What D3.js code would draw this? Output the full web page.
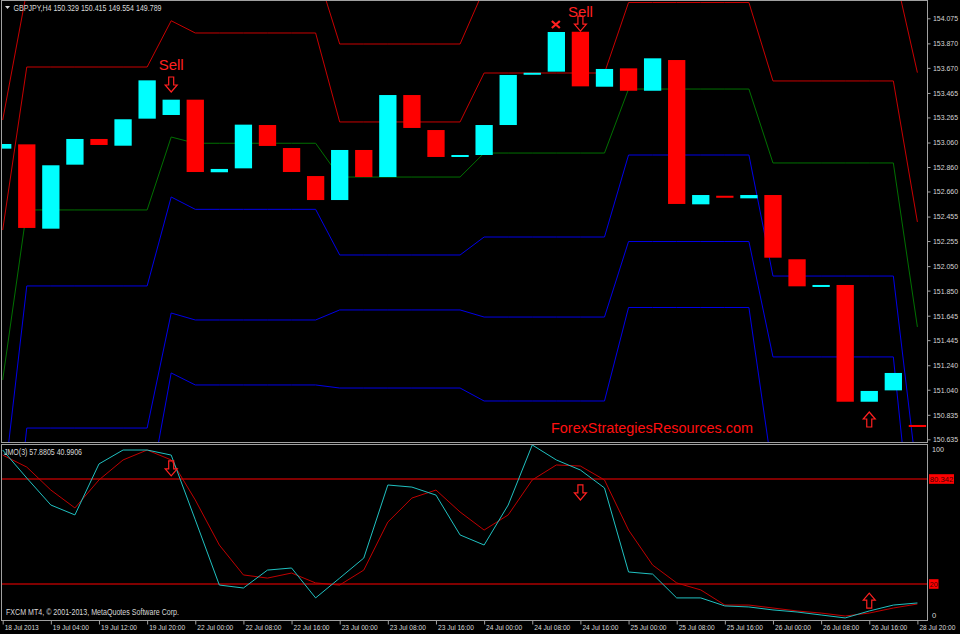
<!DOCTYPE html>
<html><head><meta charset="utf-8">
<script src="https://cdn.jsdelivr.net/npm/d3@7"></script>
<style>
html,body{margin:0;padding:0;background:#000;}
svg{display:block;}
text{font-family:"Liberation Sans","DejaVu Sans",sans-serif;}
</style></head><body>
<svg id="c" width="960" height="634"></svg>
<script>
// ---------- DATA ----------
const timeLabels = ["18 Jul 2013","19 Jul 04:00","19 Jul 12:00","19 Jul 20:00","22 Jul 00:00","22 Jul 08:00","22 Jul 16:00","23 Jul 00:00","23 Jul 08:00","23 Jul 16:00","24 Jul 00:00","24 Jul 08:00","24 Jul 16:00","25 Jul 00:00","25 Jul 08:00","25 Jul 16:00","26 Jul 00:00","26 Jul 08:00","26 Jul 16:00","28 Jul 20:00"];
const priceTicks = [154.075,153.870,153.670,153.465,153.265,153.060,152.860,152.660,152.455,152.255,152.050,151.850,151.645,151.445,151.240,151.040,150.835,150.635];
const opens  = [153.010,153.045,152.356,152.879,153.089,153.034,153.255,153.285,153.410,152.817,152.849,153.203,153.015,152.786,152.590,152.999,152.778,153.448,153.162,152.942,152.958,153.203,153.614,153.639,153.965,153.516,153.666,153.483,153.734,152.555,152.625,152.604,152.631,152.106,151.882,151.896,150.942,151.035,150.752];
const closes = [153.048,152.362,152.874,153.089,153.040,153.250,153.568,153.410,152.819,152.844,153.206,153.032,152.819,152.590,152.999,152.778,153.448,153.179,152.942,152.958,153.203,153.612,153.630,153.963,153.519,153.661,153.483,153.748,152.558,152.631,152.612,152.631,152.119,151.885,151.896,150.942,151.030,151.177,150.747];
const pivotR2 = [153.244,154.298,154.298,154.298,154.298,154.298,154.298,154.543,154.494,154.494,154.494,154.494,154.494,154.494,153.865,153.865,153.865,153.865,153.865,153.865,154.314,154.314,154.314,154.314,154.314,154.314,154.743,154.743,154.743,154.743,154.743,154.743,154.502,154.502,154.502,154.502,154.502,154.502,153.631];
const pivotR1 = [152.345,153.677,153.677,153.677,153.677,153.677,153.677,154.055,153.955,153.955,153.955,153.955,153.955,153.955,153.228,153.228,153.228,153.228,153.228,153.228,153.628,153.628,153.628,153.628,153.628,153.628,154.204,154.204,154.204,154.204,154.204,154.204,153.563,153.563,153.563,153.563,153.563,153.563,152.411];
const pivotP  = [151.120,152.509,152.509,152.509,152.509,152.509,152.509,153.105,153.054,153.054,153.054,153.054,153.054,153.054,152.778,152.778,152.778,152.778,152.778,152.778,152.974,152.974,152.974,152.974,152.974,152.974,153.497,153.497,153.497,153.497,153.497,153.497,152.893,152.893,152.893,152.893,152.893,152.893,151.553];
const pivotS1 = [150.180,151.888,151.888,151.888,151.888,151.888,151.888,152.615,152.514,152.514,152.514,152.514,152.514,152.514,152.141,152.141,152.141,152.141,152.141,152.141,152.288,152.288,152.288,152.288,152.288,152.288,152.958,152.958,152.958,152.958,152.958,152.958,151.969,151.969,151.969,151.969,151.969,151.969,150.311];
const pivotS2 = [148.954,150.727,150.727,150.727,150.727,150.727,150.727,151.667,151.610,151.610,151.610,151.610,151.610,151.610,151.692,151.692,151.692,151.692,151.692,151.692,151.634,151.634,151.634,151.634,151.634,151.634,152.251,152.251,152.251,152.251,152.251,152.251,151.308,151.308,151.308,151.308,151.308,151.308,149.404];
const pivotS3 = [148.015,150.098,150.098,150.098,150.098,150.098,150.098,151.177,151.079,151.079,151.079,151.079,151.079,151.079,151.054,151.054,151.054,151.054,151.054,151.054,150.948,150.948,150.948,150.948,150.948,150.948,151.712,151.712,151.712,151.712,151.712,151.712,150.343,150.343,150.343,150.343,150.343,150.343,148.211];
const jmoFast = [97.0,80.9,65.4,59.7,89.0,97.0,97.0,94.1,56.9,19.4,17.7,28.0,29.2,12.0,23.4,34.9,76.9,75.7,71.1,48.2,42.4,65.4,99.9,91.3,85.5,75.2,26.9,25.7,12.0,12.0,7.4,6.8,5.1,3.9,2.2,0.5,4.5,7.9,9.1];
const jmoSlow = [94.1,87.2,74.0,63.7,79.8,91.3,97.0,91.3,68.3,42.4,25.2,23.4,26.3,20.6,19.4,28.0,55.6,69.4,74.0,61.4,51.0,59.7,79.8,88.4,87.8,79.8,51.0,30.9,20.6,16.6,7.9,7.9,6.2,4.5,3.3,1.6,3.3,6.2,8.5];
const levels = [80.342, 20];
const sellBars = [7, 24];
const sellTips = [153.473, 153.971];
const buyBars = [36];
const buyTips = [150.858];
const crossBars = [23];
const crossPrices = [154.024];
const subDownBars = [7, 24];
const subDownTips = [82.1, 68.3];
const subUpBars = [36];
const subUpTips = [14.8];

// ---------- LAYOUT ----------
const svg = d3.select("#c");
const L = 1.5, R = 927.5, mT = 0.5, mB = 442.5, sT = 444.5, sB = 620.5;
const x = d3.scaleLinear().domain([0, 38]).range([2.7, 917.4]);
const y = d3.scaleLinear().domain([150.635, 154.075]).range([439.3, 18.3]);
const yS = d3.scaleLinear().domain([0, 100]).range([618.8, 444.8]);
const frame = "#a0a0a0", fg = "#d8d8d8";
const fs = 8.5;

svg.append("rect").attr("width",960).attr("height",634).attr("fill","#000");
const defs = svg.append("defs");
defs.append("clipPath").attr("id","cm").append("rect").attr("x",L).attr("y",mT).attr("width",R-L).attr("height",mB-mT);
defs.append("clipPath").attr("id","cs").append("rect").attr("x",L).attr("y",sT).attr("width",R-L).attr("height",sB-sT);

const gm = svg.append("g").attr("clip-path","url(#cm)");
const gs = svg.append("g").attr("clip-path","url(#cs)");

// pivot lines
const line = d3.line().x((d,i)=>x(i)).y(d=>y(d));
[[pivotR2,"#c80000"],[pivotR1,"#c80000"],[pivotP,"#007000"],[pivotS1,"#0000e8"],[pivotS2,"#0000e8"],[pivotS3,"#0000e8"]].forEach(([arr,col])=>{
  gm.append("path").attr("d",line(arr)).attr("fill","none").attr("stroke",col).attr("stroke-width",1);
});

// candles
const bw = 17.3;
gm.selectAll("rect.c").data(opens.map((o,i)=>({o,c:closes[i],i}))).enter().append("rect")
  .attr("x",d=>x(d.i)-bw/2).attr("width",bw)
  .attr("y",d=>y(Math.max(d.o,d.c)))
  .attr("height",d=>Math.max(2, y(Math.min(d.o,d.c))-y(Math.max(d.o,d.c))))
  .attr("fill",d=>d.c>=d.o?"#00ffff":"#ff0000");

// arrows
function downArrow(g,cx,tip,col){
  const p=`M${cx-2.5},${tip-15}L${cx+2.5},${tip-15}L${cx+2.5},${tip-7}L${cx+6},${tip-7}L${cx},${tip}L${cx-6},${tip-7}L${cx-2.5},${tip-7}Z`;
  g.append("path").attr("d",p).attr("fill","none").attr("stroke",col).attr("stroke-width",1.2);
}
function upArrow(g,cx,tip,col){
  const p=`M${cx-2.5},${tip+15}L${cx+2.5},${tip+15}L${cx+2.5},${tip+7}L${cx+6},${tip+7}L${cx},${tip}L${cx-6},${tip+7}L${cx-2.5},${tip+7}Z`;
  g.append("path").attr("d",p).attr("fill","none").attr("stroke",col).attr("stroke-width",1.2);
}
sellBars.forEach((b,k)=>{
  downArrow(gm,x(b),y(sellTips[k]),"#ff2020");
  gm.append("text").attr("x",x(b)).attr("y",Math.max(17, y(sellTips[k])-22)).attr("text-anchor","middle")
    .attr("fill","#ff2020").attr("font-size",15).attr("font-family","'DejaVu Sans',sans-serif").text("Sell");
});
buyBars.forEach((b,k)=>upArrow(gm,x(b),y(buyTips[k]),"#ff2020"));
crossBars.forEach((b,k)=>{
  const cx=x(b)-0.5, cy=y(crossPrices[k]);
  gm.append("path").attr("d",`M${cx-4},${cy-3.5}L${cx+4},${cy+3.5}M${cx+4},${cy-3.5}L${cx-4},${cy+3.5}`)
    .attr("stroke","#ff2020").attr("stroke-width",2.2);
});

// watermark
gm.append("text").attr("x",551).attr("y",433).attr("fill","#ff1010").attr("font-size",15)
  .attr("font-family","'DejaVu Sans',sans-serif").attr("textLength",202).attr("lengthAdjust","spacingAndGlyphs")
  .text("ForexStrategiesResources.com");

// ---------- sub panel ----------
levels.forEach(v=>{
  gs.append("line").attr("x1",L).attr("x2",R).attr("y1",yS(v)).attr("y2",yS(v)).attr("stroke","#ff0000").attr("stroke-width",1);
});
const lineS = d3.line().x((d,i)=>x(i)).y(d=>yS(d));
gs.append("path").attr("d",lineS(jmoSlow)).attr("fill","none").attr("stroke","#c00000").attr("stroke-width",1);
gs.append("path").attr("d",lineS(jmoFast)).attr("fill","none").attr("stroke","#20c0c0").attr("stroke-width",1);
subDownBars.forEach((b,k)=>downArrow(gs,x(b),yS(subDownTips[k]),"#ff2020"));
subUpBars.forEach((b,k)=>upArrow(gs,x(b),yS(subUpTips[k]),"#ff2020"));

// frames
svg.append("rect").attr("x",L).attr("y",mT).attr("width",R-L).attr("height",mB-mT).attr("fill","none").attr("stroke",frame);
svg.append("rect").attr("x",L).attr("y",sT).attr("width",R-L).attr("height",sB-sT).attr("fill","none").attr("stroke",frame);

// price axis
const ay = svg.append("g").attr("transform",`translate(${R},0)`)
  .call(d3.axisRight(y).tickValues(priceTicks).tickFormat(d3.format(".3f")).tickSize(3).tickPadding(2.5));
ay.select(".domain").remove();
ay.selectAll("line").attr("stroke",frame);
ay.selectAll("text").attr("fill",fg).attr("font-size",7.6)
  .attr("textLength",25).attr("lengthAdjust","spacingAndGlyphs");

// sub axis labels
svg.append("text").attr("x",932).attr("y",yS(100)+7.5).attr("fill",fg).attr("font-size",7.6)
  .attr("textLength",12).attr("lengthAdjust","spacingAndGlyphs").text("100");
svg.append("text").attr("x",932).attr("y",yS(0)-0.5).attr("fill",fg).attr("font-size",7.6).text("0");
levels.forEach(v=>{
  const t = v===20?"20":v.toFixed(3);
  const w = v===20?9.5:25;
  svg.append("rect").attr("x",929).attr("y",yS(v)-4.8).attr("width",w).attr("height",9.6).attr("fill","#ff0000");
  svg.append("text").attr("x",929.8).attr("y",yS(v)+3.3).attr("fill","#400000").attr("font-size",7.6)
    .attr("textLength",w-1.6).attr("lengthAdjust","spacingAndGlyphs").text(t);
});

// time axis
const tv = timeLabels.map((d,i)=>i*2);
const ax = svg.append("g").attr("transform",`translate(0,${sB})`)
  .call(d3.axisBottom(x).tickValues(tv).tickFormat((d,i)=>timeLabels[i]).tickSize(4));
ax.select(".domain").remove();
ax.selectAll("line").attr("stroke",frame);
ax.selectAll("text").attr("fill",fg).attr("font-size",7.3).attr("text-anchor","start").attr("dx",1.5).attr("y",4).attr("dy","0.71em")
  .attr("textLength",(d,i)=>i===0?34:36).attr("lengthAdjust","spacingAndGlyphs");

// header texts
svg.append("path").attr("d","M5,6L10,6L7.5,9Z").attr("fill",fg);
svg.append("text").attr("x",13.5).attr("y",11).attr("fill",fg).attr("font-size",fs)
  .attr("textLength",148).attr("lengthAdjust","spacingAndGlyphs")
  .text("GBPJPY,H4  150.329 150.415 149.554 149.789");
svg.append("text").attr("x",4).attr("y",455).attr("fill",fg).attr("font-size",fs)
  .attr("textLength",78).attr("lengthAdjust","spacingAndGlyphs")
  .text("JMO(3) 57.8805 40.9906");
svg.append("text").attr("x",6).attr("y",615).attr("fill",fg).attr("font-size",fs)
  .attr("textLength",173).attr("lengthAdjust","spacingAndGlyphs")
  .text("FXCM MT4, \u00a9 2001-2013, MetaQuotes Software Corp.");
</script></body></html>
